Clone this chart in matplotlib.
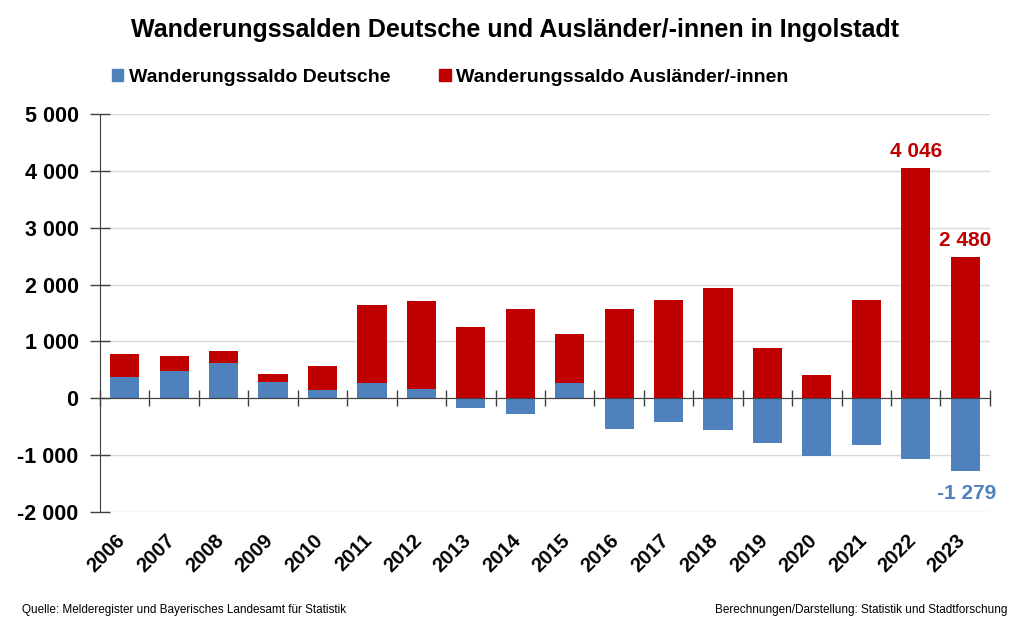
import matplotlib.pyplot as plt
import matplotlib.ticker as mticker
from matplotlib.patches import Patch

plt.rcParams['font.family'] = ['Liberation Sans', 'DejaVu Sans']

years = [str(y) for y in range(2006, 2024)]
deutsche = [380, 485, 614, 287, 152, 269, 164, -175, -269, 263,
            -544, -421, -556, -784, -1018, -819, -1064, -1279]
auslaender = [398, 258, 211, 146, 409, 1363, 1555, 1251, 1573, 860,
              1573, 1737, 1947, 883, 409, 1725, 4046, 2480]

blue = '#4F81BD'
red = '#C00000'


def fmt(v):
    return f'{v:,.0f}'.replace(',', ' ')


fig = plt.figure(figsize=(10.24, 6.27), dpi=100)
ax = fig.add_axes([0.0977, 0.1834, 0.869, 0.6348])

x = list(range(len(years)))
# Auslaender stacked on top of positive Deutsche values, otherwise from zero
bottoms = [d if d > 0 else 0 for d in deutsche]
ax.bar(x, deutsche, width=0.59, color=blue, zorder=3)
ax.bar(x, auslaender, width=0.59, bottom=bottoms, color=red, zorder=3)

ax.set_xlim(-0.5, len(years) - 0.5)
ax.set_ylim(-2000, 5000)
ax.yaxis.set_major_locator(mticker.MultipleLocator(1000))
ax.yaxis.set_major_formatter(mticker.FuncFormatter(lambda v, p: fmt(v)))
ax.grid(axis='y', color='#D9D9D9', linewidth=1, zorder=0)

for s in ['top', 'right']:
    ax.spines[s].set_visible(False)
ax.spines['left'].set_color('#404040')
ax.spines['bottom'].set_position(('data', 0))
ax.spines['bottom'].set_color('#404040')
ax.spines['bottom'].set_zorder(4)

ax.tick_params(axis='y', direction='inout', length=14, width=1, color='#404040',
               labelsize=15.5, pad=8.5)
for lbl in ax.get_yticklabels():
    lbl.set_fontweight('bold')

ax.set_xticks(x)
ax.tick_params(axis='x', which='major', length=0, labelbottom=False)
ax.set_xticks([i + 0.5 for i in range(-1, len(years))], minor=True)
ax.tick_params(axis='x', which='minor', direction='inout', length=12, width=1,
               color='#404040')

for i, y in enumerate(years):
    ax.text(i - 0.19, -0.047, y, transform=ax.get_xaxis_transform(),
            rotation=45, ha='right', va='top', rotation_mode='anchor',
            fontsize=14.5, fontweight='bold')

# value labels for the last years
for i in [len(years) - 2, len(years) - 1]:
    top = bottoms[i] + auslaender[i]
    ax.annotate(fmt(auslaender[i]), (i, top), xytext=(0, 5),
                textcoords='offset points', ha='center', va='bottom',
                color=red, fontsize=15, fontweight='bold')
i = len(years) - 1
ax.annotate(fmt(deutsche[i]), (i, deutsche[i]), xytext=(1, -9),
            textcoords='offset points', ha='center', va='top',
            color=blue, fontsize=15, fontweight='bold')

fig.text(0.503, 0.952, 'Wanderungssalden Deutsche und Ausländer/-innen in Ingolstadt',
         ha='center', va='center', fontsize=18, fontweight='bold')

handles = [Patch(color=blue), Patch(color=red)]
fig.legend(handles, ['Wanderungssaldo Deutsche', 'Wanderungssaldo Ausländer/-innen'],
           loc='center', bbox_to_anchor=(0.44, 0.877), ncol=2, frameon=False,
           handlelength=0.57, handleheight=0.57, handletextpad=0.3,
           columnspacing=2.5, prop={'size': 14, 'weight': 'bold'})

fig.text(0.021, 0.027, 'Quelle: Melderegister und Bayerisches Landesamt für Statistik',
         ha='left', va='center', fontsize=8.5)
fig.text(0.984, 0.027, 'Berechnungen/Darstellung: Statistik und Stadtforschung',
         ha='right', va='center', fontsize=8.5)

fig.savefig('out.png', dpi=100)
